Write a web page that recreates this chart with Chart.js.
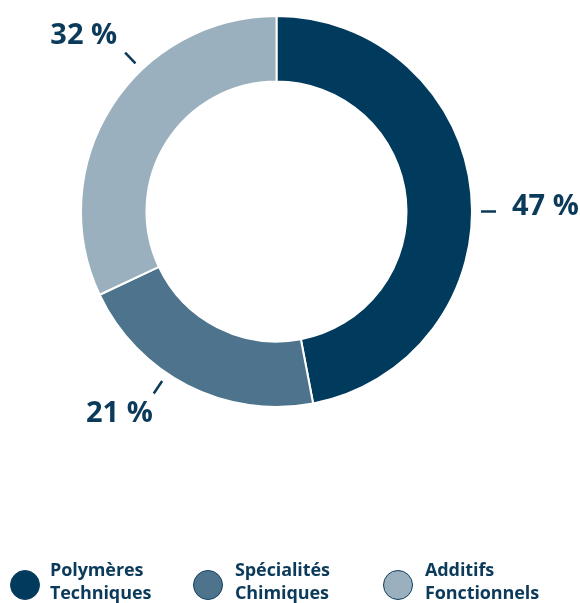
<!DOCTYPE html>
<html>
<head>
<meta charset="utf-8">
<script src="https://cdn.jsdelivr.net/npm/chart.js@4/dist/chart.umd.min.js"></script>
<style>
    body { margin: 0; background: #fff; }
    .wrap { position: relative; width: 580px; height: 603px; }
    .legend { position: absolute; left: 0; top: 558px; width: 580px; height: 45px; font-family: 'Open Sans', sans-serif; font-weight: 700; color: #0b3a5a; }
    .legend .item { position: absolute; top: 0; }
    .legend .dot { position: absolute; top: 12px; width: 28px; height: 28px; border-radius: 50%; border: 1.5px solid #123f5e; }
    .legend .txt { position: absolute; top: 0; font-size: 18px; line-height: 23px; white-space: nowrap; letter-spacing: -0.1px; }
</style>
</head>
<body>
<div class="wrap">
    <canvas id="donut"></canvas>
    <div class="legend" id="legend"></div>
</div>
<script>
const categories = [['Polymères', 'Techniques'], ['Spécialités', 'Chimiques'], ['Additifs', 'Fonctionnels']];
const shares = [47, 21, 32];
const colors = ['#003a5c', '#4e748d', '#9ab0be'];

const textColor = '#0b3a5a';

// Percent labels with short leader lines outside the ring
const outsideLabels = {
    id: 'outsideLabels',
    afterDraw(chart, args, opts) {
        const ctx = chart.ctx;
        const meta = chart.getDatasetMeta(0);
        ctx.save();
        ctx.strokeStyle = textColor;
        ctx.fillStyle = textColor;
        ctx.lineWidth = 2.5;
        ctx.font = "700 29px 'Open Sans', sans-serif";
        meta.data.forEach((arc, i) => {
            const nudge = (opts.nudge[i] || 0) * Math.PI / 180;
            const a = (arc.startAngle + arc.endAngle) / 2 + nudge;
            const r = arc.outerRadius;
            const cx = Math.cos(a), cy = Math.sin(a);
            const ex = arc.x + cx * (r + 24), ey = arc.y + cy * (r + 24);
            ctx.beginPath();
            ctx.moveTo(arc.x + cx * (r + 9), arc.y + cy * (r + 9));
            ctx.lineTo(ex, ey);
            ctx.stroke();
            const text = shares[i] + ' %';
            if (cx > 0.05) {
                ctx.textAlign = 'left';
                ctx.textBaseline = 'middle';
                ctx.fillText(text, ex + 16, ey - 5);
            } else if (cy > 0) {
                ctx.textAlign = 'right';
                ctx.textBaseline = 'top';
                ctx.fillText(text, ex - 1, ey + 6);
            } else {
                ctx.textAlign = 'right';
                ctx.textBaseline = 'bottom';
                ctx.fillText(text, ex - 8, ey - 2);
            }
        });
        ctx.restore();
    }
};

new Chart(document.getElementById('donut'), {
    type: 'doughnut',
    data: {
        labels: categories.map(c => c.join(' ')),
        datasets: [{
            data: shares,
            backgroundColor: colors,
            borderColor: '#ffffff',
            borderWidth: 2,
            hoverOffset: 0
        }]
    },
    options: {
        responsive: true,
        maintainAspectRatio: false,
        animation: false,
        cutout: '66.5%',
        layout: { padding: { left: 80, right: 107, top: 14, bottom: 194 } },
        plugins: {
            legend: { display: false },
            tooltip: { enabled: false },
            outsideLabels: { nudge: [5.4, 7, 14] }
        }
    },
    plugins: [outsideLabels]
});

// HTML legend
const legendPos = [{ dot: 10, txt: 50 }, { dot: 193, txt: 235 }, { dot: 383, txt: 425 }];
const legend = document.getElementById('legend');
categories.forEach((c, i) => {
    const item = document.createElement('div');
    item.className = 'item';
    item.innerHTML = `<div class="dot" style="left:${legendPos[i].dot}px;background:${colors[i]}"></div>` +
        `<div class="txt" style="left:${legendPos[i].txt}px">${c[0]}<br>${c[1]}</div>`;
    legend.appendChild(item);
});
</script>
</body>
</html>
